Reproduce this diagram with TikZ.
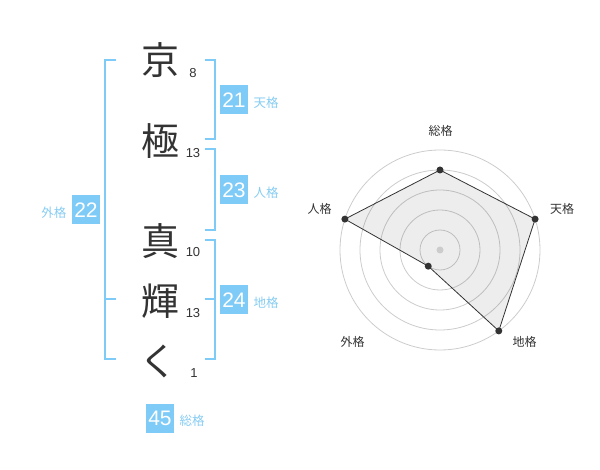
\documentclass[tikz,border=0pt]{standalone}
\usepackage{fontspec}
\setmainfont{Liberation Sans}
\newfontfamily\jp{Noto Sans CJK JP}
\definecolor{blu}{HTML}{7FCBF8}
\definecolor{lbl}{HTML}{86CCF2}
\definecolor{ink}{HTML}{333333}
\definecolor{ring}{HTML}{CCCCCC}
\begin{document}
\begin{tikzpicture}[x=1pt,y=-1pt,
  bigch/.style={font=\jp\fontsize{38}{38}\selectfont,text=ink,inner sep=0pt},
  strk/.style={font=\fontsize{13}{13}\selectfont,text=ink,inner sep=0pt},
  valbox/.style={fill=blu,text=white,minimum width=28pt,minimum height=29pt,inner sep=0pt,font=\fontsize{21}{21}\selectfont},
  kaku/.style={font=\jp\fontsize{12.5}{12.5}\selectfont,text=lbl,inner sep=0pt},
  rlabel/.style={font=\jp\fontsize{12}{12}\selectfont,text=ink,inner sep=0pt},
  brk/.style={draw=blu,line width=2pt},
  vdot/.style={circle,fill=ink,minimum size=7pt,inner sep=0pt},
]
\useasboundingbox (0,0) rectangle (600,470);
% characters
\node[bigch] (c1) at (160,60) {京};
\node[bigch] (c2) at (160,141) {極};
\node[bigch] (c3) at (160,241) {真};
\node[bigch] (c4) at (160,301) {輝};
\node[bigch] (c5) at (158,361) {く};
\node[strk] (n1) at (193,73) {8};
\node[strk] (n2) at (193,153) {13};
\node[strk] (n3) at (193,252) {10};
\node[strk] (n4) at (193,313) {13};
\node[strk] (n5) at (194,373) {1};
% brackets
\draw[brk] (116,60) -- (105,60) -- (105,359) -- (116,359);
\draw[brk] (105,299) -- (116,299);
\draw[brk] (205,60) -- (215,60) -- (215,139) -- (205,139);
\draw[brk] (205,149) -- (215,149) -- (215,230) -- (205,230);
\draw[brk] (205,240) -- (215,240) -- (215,359) -- (205,359);
\draw[brk] (205,299) -- (215,299);
% value boxes
\node[valbox] (v21) at (234,100) {21};
\node[kaku] (k21) at (266,103) {天格};
\node[valbox] (v23) at (234,190) {23};
\node[kaku] (k23) at (266,193) {人格};
\node[valbox] (v22) at (86,210) {22};
\node[kaku] (k22) at (54,213) {外格};
\node[valbox] (v24) at (234,300) {24};
\node[kaku] (k24) at (266,303) {地格};
\node[valbox] (v45) at (160,418) {45};
\node[kaku] (k45) at (192,421) {総格};
% radar
\coordinate (ctr) at (440,250);
\foreach \r in {20,40,60,80,100}
  \draw[ring,line width=0.8pt] (ctr) circle[radius=\r];
\path (ctr) ++(0,-80) coordinate (pS);
\path (ctr) ++({100*cos(18)},{-100*sin(18)}) coordinate (pT);
\path (ctr) ++({100*cos(-54)},{-100*sin(-54)}) coordinate (pC);
\path (ctr) ++({20*cos(234)},{-20*sin(234)}) coordinate (pG);
\path (ctr) ++({100*cos(162)},{-100*sin(162)}) coordinate (pJ);
\fill[black,fill opacity=0.07] (pS) -- (pT) -- (pC) -- (pG) -- (pJ) -- cycle;
\fill[ring] (ctr) circle[radius=3.5];
\draw[ink,line width=0.8pt] (pS) -- (pT) -- (pC) -- (pG) -- (pJ) -- cycle;
\foreach \p in {pS,pT,pC,pG,pJ} \node[vdot] (d\p) at (\p) {};
\node[rlabel] (lS) at (440.5,130.5) {総格};
\node[rlabel] (lT) at (562,209) {天格};
\node[rlabel] (lJ) at (319.5,209) {人格};
\node[rlabel] (lG) at (352.5,342) {外格};
\node[rlabel] (lC) at (524.5,342) {地格};
\end{tikzpicture}
\end{document}
